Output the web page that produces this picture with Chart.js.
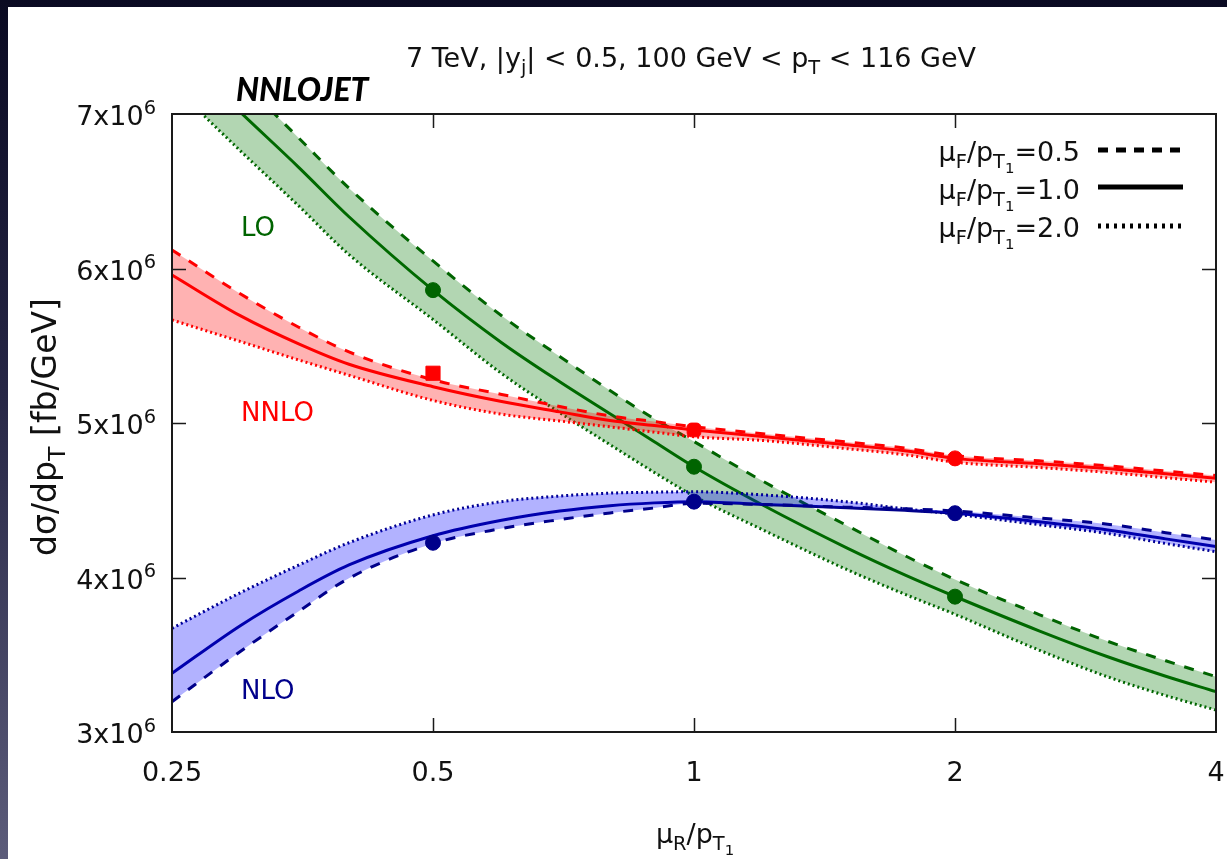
<!DOCTYPE html>
<html>
<head>
<meta charset="utf-8">
<script src="https://cdn.jsdelivr.net/npm/chart.js@4.4.1/dist/chart.umd.min.js"></script>
<style>
  html, body { margin: 0; padding: 0; width: 1227px; height: 859px; overflow: hidden; }
  body { background: linear-gradient(to bottom, #0a0a22 0%, #262645 45%, #5c5c7a 100%); position: relative; }
  #panel { position: absolute; left: 8px; top: 7px; right: 0; bottom: 0; background: #ffffff; }
  #c { position: absolute; left: 0; top: 0; }
</style>
</head>
<body>
<div id="panel"></div>
<canvas id="c" width="1227" height="859"></canvas>
<script>
// ---------- data ----------
const muR = [0.25, 0.3, 0.35, 0.4, 0.5, 0.6, 0.7, 0.8, 0.9, 1.0, 1.2, 1.5, 1.75, 2.0, 2.5, 3.0, 3.5, 4.0];

// LO
const loF05 = [7.666e6, 7.22e6, 6.845e6, 6.52e6, 6.049e6, 5.694e6, 5.431e6, 5.21e6, 5.027e6, 4.88e6, 4.624e6, 4.337e6, 4.142e6, 3.987e6, 3.76e6, 3.587e6, 3.461e6, 3.358e6];
const loF10 = [7.44e6, 7.01e6, 6.655e6, 6.335e6, 5.86e6, 5.52e6, 5.267e6, 5.06e6, 4.879e6, 4.717e6, 4.469e6, 4.192e6, 4.017e6, 3.877e6, 3.655e6, 3.487e6, 3.361e6, 3.261e6];
const loF20 = [7.19e6, 6.76e6, 6.405e6, 6.09e6, 5.67e6, 5.32e6, 5.067e6, 4.86e6, 4.68e6, 4.527e6, 4.309e6, 4.052e6, 3.892e6, 3.762e6, 3.53e6, 3.357e6, 3.236e6, 3.142e6];

// NNLO
const nnloF05 = [6.12e6, 5.835e6, 5.62e6, 5.46e6, 5.28e6, 5.185e6, 5.107e6, 5.046e6, 5.009e6, 4.976e6, 4.930e6, 4.877e6, 4.838e6, 4.789e6, 4.755e6, 4.723e6, 4.689e6, 4.66e6];
const nnloF10 = [5.958e6, 5.693e6, 5.512e6, 5.38e6, 5.235e6, 5.139e6, 5.072e6, 5.016e6, 4.984e6, 4.955e6, 4.912e6, 4.859e6, 4.82e6, 4.771e6, 4.737e6, 4.705e6, 4.671e6, 4.642e6];
const nnloF20 = [5.667e6, 5.527e6, 5.408e6, 5.309e6, 5.146e6, 5.057e6, 5.013e6, 4.975e6, 4.941e6, 4.911e6, 4.887e6, 4.834e6, 4.795e6, 4.746e6, 4.712e6, 4.68e6, 4.646e6, 4.617e6];

// NLO
const nloF05 = [3.196e6, 3.523e6, 3.781e6, 3.995e6, 4.22e6, 4.317e6, 4.375e6, 4.418e6, 4.45e6, 4.48e6, 4.473e6, 4.455e6, 4.445e6, 4.43e6, 4.385e6, 4.345e6, 4.29e6, 4.243e6];
const nloF10 = [3.38e6, 3.69e6, 3.913e6, 4.081e6, 4.27e6, 4.37e6, 4.43e6, 4.465e6, 4.483e6, 4.491e6, 4.473e6, 4.451e6, 4.435e6, 4.416e6, 4.361e6, 4.308e6, 4.25e6, 4.2e6];
const nloF20 = [3.671e6, 3.902e6, 4.08e6, 4.225e6, 4.405e6, 4.491e6, 4.527e6, 4.546e6, 4.552e6, 4.555e6, 4.535e6, 4.49e6, 4.445e6, 4.41e6, 4.342e6, 4.285e6, 4.22e6, 4.167e6];

// marker points
const markX = [0.5, 1.0, 2.0];
const loMarks = [5.86e6, 4.717e6, 3.876e6];
const nnloMarks = [5.322e6, 4.955e6, 4.771e6];
const nloMarks = [4.225e6, 4.491e6, 4.416e6];

// ticks
const xTicks = [0.25, 0.5, 1, 2, 4];
const xTickLabels = ['0.25', '0.5', '1', '2', '4'];
const yTicks = [3e6, 4e6, 5e6, 6e6, 7e6];
const yTickMant = ['3', '4', '5', '6', '7'];

// ---------- helpers ----------
const pts = (xs, ys) => xs.map((x, i) => ({ x: x, y: ys[i] }));
const FAM = '"DejaVu Sans", sans-serif';

const colors = {
  lo:   { line: '#006400', band: 'rgba(0,120,0,0.30)' },
  nnlo: { line: '#ff0000', band: 'rgba(255,0,0,0.30)' },
  nlo:  { line: '#00008b', band: 'rgba(0,0,255,0.30)' }
};

function bandSets(name, c, d05, d10, d20) {
  return [
    { label: name + ' muF=0.5', data: pts(muR, d05), borderColor: c.line, borderWidth: 3, borderDash: [10, 10],
      fill: '+2', backgroundColor: c.band, pointRadius: 0, cubicInterpolationMode: 'monotone' },
    { label: name + ' muF=1.0', data: pts(muR, d10), borderColor: c.line, borderWidth: 3,
      fill: false, pointRadius: 0, cubicInterpolationMode: 'monotone' },
    { label: name + ' muF=2.0', data: pts(muR, d20), borderColor: c.line, borderWidth: 3, borderDash: [2, 3],
      fill: false, pointRadius: 0, cubicInterpolationMode: 'monotone' }
  ];
}
function markSet(name, c, ys, styles, radii) {
  return { label: name + ' points', data: pts(markX, ys), showLine: false, fill: false,
    pointRadius: radii, pointStyle: styles, backgroundColor: c.line, borderColor: c.line, borderWidth: 1 };
}

const datasets = [
  markSet('NNLO', colors.nnlo, nnloMarks, ['rect', 'rectRounded', 'circle'], [10, 8, 7.5]),
  markSet('NLO', colors.nlo, nloMarks, 'circle', 7.5),
  markSet('LO', colors.lo, loMarks, 'circle', 7.5),
  ...bandSets('NNLO', colors.nnlo, nnloF05, nnloF10, nnloF20),
  ...bandSets('NLO', colors.nlo, nloF05, nloF10, nloF20),
  ...bandSets('LO', colors.lo, loF05, loF10, loF20)
];

// rich text: parts = [[text, level]] level 0 normal, -1 sub, -2 subsub, 1 sup
const LVL = { '0': [1, 0], '-1': [0.72, 0.27], '-2': [0.55, 0.45], '1': [0.72, -0.42] };
function richWidth(ctx, parts, size, pre) {
  let w = 0;
  for (const [t, l] of parts) {
    const [s] = LVL[l];
    ctx.font = (pre || '') + (size * s).toFixed(1) + 'px ' + FAM;
    w += ctx.measureText(t).width;
  }
  return w;
}
function drawRich(ctx, parts, x, y, size, color, align, pre) {
  const w = richWidth(ctx, parts, size, pre);
  let cx = align === 'center' ? x - w / 2 : (align === 'right' ? x - w : x);
  ctx.fillStyle = color;
  ctx.textBaseline = 'alphabetic';
  ctx.textAlign = 'left';
  for (const [t, l] of parts) {
    const [s, dy] = LVL[l];
    ctx.font = (pre || '') + (size * s).toFixed(1) + 'px ' + FAM;
    ctx.fillText(t, cx, y + dy * size);
    cx += ctx.measureText(t).width;
  }
}

const decor = {
  id: 'decor',
  afterDatasetsDraw(chart) {
    const ctx = chart.ctx;
    const a = chart.chartArea;
    const xs = chart.scales.x, ys = chart.scales.y;
    ctx.save();
    // frame
    ctx.strokeStyle = '#1a1a1a';
    ctx.lineWidth = 2;
    ctx.setLineDash([]);
    ctx.strokeRect(a.left, a.top, a.right - a.left, a.bottom - a.top);
    // ticks
    ctx.lineWidth = 1.5;
    const TL = 14;
    ctx.beginPath();
    xTicks.forEach(v => {
      const px = Math.round(xs.getPixelForValue(v)) + 0.5;
      if (px <= a.left + 2 || px >= a.right - 2) return;
      ctx.moveTo(px, a.bottom); ctx.lineTo(px, a.bottom - TL);
      ctx.moveTo(px, a.top); ctx.lineTo(px, a.top + TL);
    });
    yTicks.forEach(v => {
      const py = Math.round(ys.getPixelForValue(v)) + 0.5;
      if (py <= a.top + 2 || py >= a.bottom - 2) return;
      ctx.moveTo(a.left, py); ctx.lineTo(a.left + TL, py);
      ctx.moveTo(a.right, py); ctx.lineTo(a.right - TL, py);
    });
    ctx.stroke();

    const S = 27;
    // x tick labels
    xTicks.forEach((v, i) => {
      drawRich(ctx, [[xTickLabels[i], 0]], xs.getPixelForValue(v), 781, S, '#111', 'center');
    });
    // y tick labels
    yTicks.forEach((v, i) => {
      const py = ys.getPixelForValue(v);
      drawRich(ctx, [[yTickMant[i] + 'x10', 0], ['6', 1]], 156, py + 11, S, '#111', 'right');
    });
    // title
    drawRich(ctx, [['7 TeV, |y', 0], ['j', -1], ['| < 0.5, 100 GeV < p', 0], ['T', -1], [' < 116 GeV', 0]],
      691, 67, S, '#111', 'center');
    // x title
    drawRich(ctx, [['\u03bc', 0], ['R', -1], ['/p', 0], ['T', -1], ['1', -2]], 695, 843, S, '#111', 'center');
    // y title
    ctx.save();
    ctx.translate(56, 427);
    ctx.rotate(-Math.PI / 2);
    drawRich(ctx, [['d\u03c3/dp', 0], ['T', -1], [' [fb/GeV]', 0]], 0, 0, 33, '#111', 'center');
    ctx.restore();

    // NNLOJET
    ctx.font = 'italic 900 32px Lato, sans-serif';
    ctx.fillStyle = '#000';
    ctx.textAlign = 'left';
    ctx.fillText('NNLOJET', 236, 101);

    // series labels
    drawRich(ctx, [['LO', 0]], 241, 236, 26, colors.lo.line, 'left');
    drawRich(ctx, [['NNLO', 0]], 241, 421, 26, colors.nnlo.line, 'left');
    drawRich(ctx, [['NLO', 0]], 241, 699, 26, colors.nlo.line, 'left');

    // legend
    const rows = [
      { v: '0.5', dash: [10, 8], base: 161, ly: 150 },
      { v: '1.0', dash: [], base: 199, ly: 187 },
      { v: '2.0', dash: [3, 5], base: 237, ly: 226 }
    ];
    rows.forEach(r => {
      drawRich(ctx, [['\u03bc', 0], ['F', -1], ['/p', 0], ['T', -1], ['1', -2], ['=' + r.v, 0]],
        1080, r.base, S, '#111', 'right');
      ctx.beginPath();
      ctx.setLineDash(r.dash);
      ctx.lineWidth = 5;
      ctx.strokeStyle = '#000';
      ctx.moveTo(1098, r.ly); ctx.lineTo(1183, r.ly);
      ctx.stroke();
    });
    ctx.setLineDash([]);
    ctx.restore();
  }
};

const chart = new Chart(document.getElementById('c').getContext('2d'), {
  type: 'line',
  data: { datasets: datasets },
  options: {
    responsive: false,
    animation: false,
    devicePixelRatio: 1,
    layout: { padding: { left: 172, right: 11, top: 114, bottom: 127 } },
    plugins: { legend: { display: false }, tooltip: { enabled: false }, title: { display: false } },
    scales: {
      x: { type: 'logarithmic', min: 0.25, max: 4, display: false },
      y: { type: 'linear', min: 3e6, max: 7e6, display: false }
    }
  },
  plugins: [decor]
});
</script>
</body>
</html>
